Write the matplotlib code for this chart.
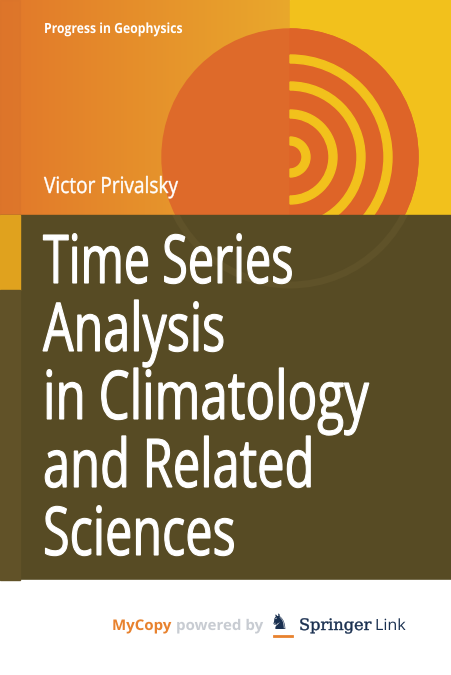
import numpy as np
import matplotlib.pyplot as plt
from matplotlib.patches import Rectangle, Circle, Wedge, PathPatch
from matplotlib.textpath import TextPath
from matplotlib.font_manager import FontProperties
from matplotlib.transforms import Affine2D
from matplotlib.colors import LinearSegmentedColormap

series = 'Progress in Geophysics'
author = 'Victor Privalsky'
title_lines = ['Time Series', 'Analysis', 'in Climatology', 'and Related', 'Sciences']
ring_outer = [20, 47, 75, 102]
ring_width = 8

fig = plt.figure(figsize=(4.51, 6.75), dpi=100)
ax = fig.add_axes([0, 0, 1, 1])
ax.set_xlim(0, 451)
ax.set_ylim(675, 0)
ax.axis('off')


def path_text(x, base, s, cap, width, color, weight='normal', family='Open Sans', lw=0, z=10):
    # text drawn as a path, scaled to a given cap height and total width
    fp = FontProperties(family=family, weight=weight)
    ref = TextPath((0, 0), 'H', size=100, prop=fp).get_extents()
    tp = TextPath((0, 0), s, size=100, prop=fp)
    k = cap / ref.height
    kx = width / tp.get_extents().width
    tr = Affine2D().scale(kx, -k).translate(x, base)
    ax.add_patch(PathPatch(tr.transform_path(tp), facecolor=color, edgecolor=color,
                           lw=lw, zorder=z))


# top band: orange gradient on left, yellow on right
grad = np.linspace(0, 1, 256).reshape(1, -1)
cmap = LinearSegmentedColormap.from_list('o', ['#e2782a', '#e9a82c'])
ax.imshow(grad, extent=(0, 290, 215, 0), cmap=cmap, aspect='auto', zorder=0)
ax.add_patch(Rectangle((290, 0), 161, 215, color='#f2c11c', zorder=0))
ax.add_patch(Rectangle((0, 0), 20, 215, color='#d9732a', alpha=0.5, zorder=1))

cx, cy, R = 290, 157, 128
ax.add_patch(Circle((cx, cy), R, color='#de6a2a', zorder=2))
ax.add_patch(Wedge((cx, cy), R, -90, 90, color='#de6428', zorder=3))
for r in ring_outer:
    ax.add_patch(Wedge((cx, cy), r, -90, 90, width=ring_width, color='#f2c11c', zorder=4))

# dark band with faint circle showing through
band = Rectangle((0, 215), 451, 365, color='#574b24', zorder=5)
ax.add_patch(band)
ax.add_patch(Rectangle((0, 215), 20, 75, color='#e0a21e', zorder=6))
ax.add_patch(Rectangle((0, 290), 20, 290, color='#615228', zorder=6))
ghost = Circle((cx, cy), R, fill=False, lw=5, color='#5f5229', zorder=6)
ax.add_patch(ghost)
ghost.set_clip_path(band)

path_text(44, 33, series, 10, 137, 'white', weight='bold')
path_text(44, 193, author, 16, 134, 'white', lw=0.3)
title_widths = [248, 180, 322, 265, 188]
for i, (line, w) in enumerate(zip(title_lines, title_widths)):
    path_text(43, 283 + i * 68, line, 48, w, 'white', lw=0.8)

# footer
ax.add_patch(Rectangle((0, 580), 451, 95, color='white', zorder=5))
path_text(112, 630, 'MyCopy', 10.5, 58, '#e8822e', weight='bold')
path_text(176, 630, 'powered by', 10.5, 86, '#c8ccd2', weight='bold')
ax.text(270, 623, '♞', color='#1a3050', fontsize=15, va='center', zorder=10)
ax.plot([274, 292], [636, 636], color='#e8822e', lw=2, zorder=10)
path_text(299, 630, 'Springer', 11.5, 71, '#1a3050', family='DejaVu Serif', lw=0.3)
path_text(375, 630, 'Link', 11, 29, '#1a3050')

fig.savefig('out.png', dpi=100)
